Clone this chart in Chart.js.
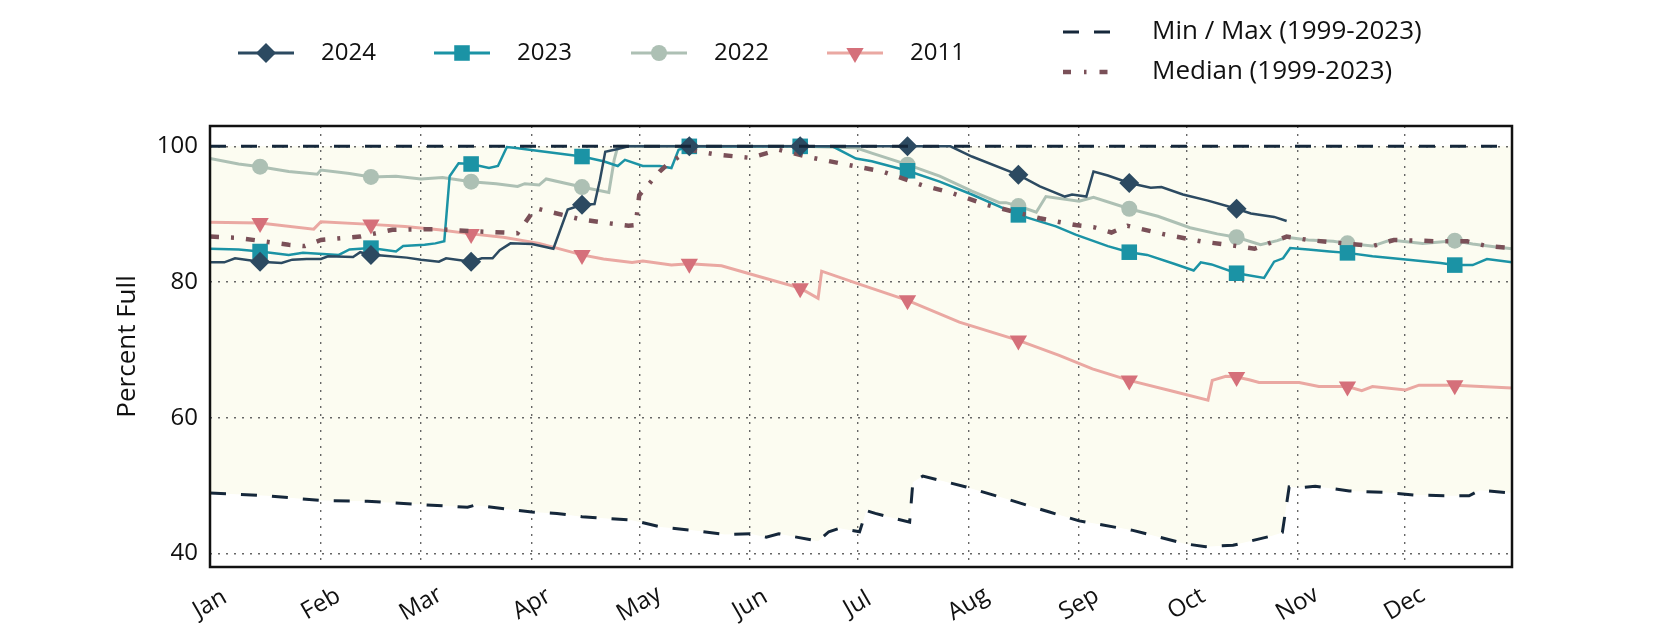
<!DOCTYPE html>
<html>
<head>
<meta charset="utf-8">
<title>Percent Full</title>
<script src="https://cdn.jsdelivr.net/npm/chart.js@4.4.1/dist/chart.umd.min.js"></script>
<style>
  html, body { margin: 0; padding: 0; background: #fff; }
  #wrap { width: 1680px; height: 630px; }
</style>
</head>
<body>
<div id="wrap"><canvas id="chart" width="1680" height="630"></canvas></div>
<script>
// month axis (day of year)
const monthStarts = [0, 31, 59, 90, 120, 151, 181, 212, 243, 273, 304, 334];
const monthLabels = ["Jan", "Feb", "Mar", "Apr", "May", "Jun", "Jul", "Aug", "Sep", "Oct", "Nov", "Dec"];
const yTicks = [40, 60, 80, 100];
const markerDays = [14, 45, 73, 104, 134, 165, 195, 226, 257, 287, 318, 348];

// 2024
const days2024 = [0, 4, 7, 14, 20, 23, 27, 31, 33, 40, 42, 45, 48, 55, 59, 64, 66, 73, 76, 79, 81, 84, 90, 96, 100, 104, 107.5, 109, 110.5, 114, 117, 134, 165, 195, 207, 213, 226, 232, 239, 241, 245, 247, 251, 257, 263, 266, 272, 279, 287, 291, 297.5, 301];
const vals2024 = [82.9, 82.9, 83.5, 83.0, 82.8, 83.3, 83.4, 83.4, 83.8, 83.7, 84.4, 84.0, 83.9, 83.6, 83.3, 83.0, 83.5, 83.0, 83.5, 83.5, 84.7, 85.7, 85.6, 84.9, 90.7, 91.4, 91.5, 95.0, 99.2, 99.6, 100, 100, 100, 100, 100, 98.5, 95.8, 94.1, 92.6, 92.9, 92.6, 96.3, 95.7, 94.6, 93.9, 94.0, 92.9, 92.0, 90.8, 90.1, 89.6, 89.0];

// 2023
const days2023 = [0, 8, 14, 22, 26, 36, 39, 45, 52, 54, 60, 63, 65.5, 67, 69.5, 73, 78, 80.5, 83, 85, 92, 104, 110, 114, 116, 121, 125.7, 129, 131, 134, 165, 174, 180.6, 185, 195, 204, 213, 226, 236.5, 242, 251, 257, 262, 269.5, 275, 277, 280, 287, 294.7, 297.5, 300, 302, 307, 313, 318, 325, 335, 344, 348, 353, 357, 364];
const vals2023 = [84.9, 84.8, 84.5, 84.0, 84.3, 84.0, 84.8, 85.0, 84.5, 85.3, 85.5, 85.7, 86.0, 95.6, 97.5, 97.4, 96.8, 97.1, 99.9, 99.8, 99.3, 98.5, 97.8, 97.1, 98.0, 97.1, 97.1, 96.8, 99.5, 100, 100, 100, 98.2, 97.8, 96.4, 94.8, 92.9, 89.9, 88.2, 87.0, 85.3, 84.4, 84.0, 82.7, 81.7, 82.9, 82.6, 81.3, 80.6, 83.0, 83.5, 85.0, 84.8, 84.5, 84.3, 83.8, 83.3, 82.8, 82.5, 82.5, 83.4, 82.9];

// 2022
const days2022 = [0, 8, 14, 22, 30, 31, 39, 45, 52, 59, 65, 73, 80, 86, 88, 92, 94, 104, 111.5, 113, 114, 134, 165, 180.6, 185, 195, 204, 213, 220.7, 222.5, 226, 231, 233.7, 243, 247, 257, 265, 274, 281.6, 287, 293.7, 298.4, 301, 307, 314, 318, 325, 330, 339, 348, 353, 359, 364];
const vals2022 = [98.2, 97.4, 97.0, 96.3, 95.9, 96.5, 96.0, 95.5, 95.6, 95.2, 95.4, 94.8, 94.5, 94.1, 94.5, 94.3, 95.2, 94.0, 93.2, 98.0, 100, 100, 100, 99.8, 99.0, 97.3, 95.6, 93.4, 91.7, 91.7, 91.2, 90.3, 92.6, 91.9, 92.5, 90.8, 89.7, 88.0, 87.1, 86.6, 85.5, 86.1, 86.6, 86.2, 86.0, 85.7, 85.3, 86.2, 85.7, 86.1, 85.6, 85.2, 84.9];

// 2011
const days2011 = [0, 14, 29, 31, 45, 54.5, 64, 73, 82, 92, 104, 110, 118, 121, 129, 134, 143, 153, 165, 170, 171, 181.5, 195, 209.5, 226, 237.4, 246.7, 257, 270, 279, 280.2, 284, 287, 290.5, 293.3, 304.5, 310, 318, 322, 325, 334.3, 338, 348, 364];
const vals2011 = [88.8, 88.7, 87.8, 88.9, 88.5, 88.2, 87.7, 87.1, 86.6, 85.7, 84.0, 83.4, 82.9, 83.1, 82.5, 82.7, 82.4, 80.9, 79.1, 77.6, 81.6, 79.7, 77.3, 74.1, 71.4, 69.2, 67.2, 65.5, 63.8, 62.6, 65.5, 66.1, 66.0, 65.6, 65.2, 65.2, 64.6, 64.6, 64.0, 64.6, 64.1, 64.8, 64.8, 64.4];

// median (1999-2023)
const daysMedian = [0, 8, 22, 26.5, 31, 42, 51, 64, 73, 86, 91, 95.4, 104, 111, 117, 119, 120, 125.7, 127.6, 134, 141.5, 151, 159, 168.5, 178, 188, 199, 207.6, 217, 232, 242, 247, 252, 256.5, 267, 277, 287, 292, 297.5, 301, 307, 319, 325, 331, 344, 351.5, 357, 364];
const valsMedian = [86.7, 86.5, 85.5, 85.3, 86.2, 86.7, 87.7, 87.8, 87.5, 87.2, 90.9, 90.3, 89.2, 88.7, 88.3, 88.4, 92.8, 96.3, 97.2, 99.5, 98.8, 98.3, 99.5, 98.3, 97.3, 96.3, 94.3, 93.1, 91.4, 89.4, 88.4, 88.1, 87.3, 88.3, 87.0, 86.0, 85.3, 84.9, 86.0, 86.7, 86.2, 85.6, 85.3, 86.2, 86.0, 86.0, 85.3, 85.0];

// min / max (1999-2023)
const daysMin = [0, 16, 31, 44, 59, 72, 74, 90, 97, 104, 107, 118, 126, 135, 144, 151, 155.5, 159, 170, 173, 176, 181.6, 183.5, 186, 195.6, 196.5, 199.3, 211.4, 225.4, 234.7, 243, 258, 272.8, 278.4, 286, 297, 299.8, 301.7, 304.5, 309, 318.5, 328, 337, 346, 352, 355, 364];
const valsMin = [48.9, 48.5, 47.8, 47.7, 47.2, 46.8, 47.1, 46.1, 45.9, 45.4, 45.3, 44.9, 43.9, 43.4, 42.8, 42.9, 42.4, 42.9, 41.8, 43.2, 43.7, 43.2, 46.3, 45.9, 44.6, 50.5, 51.4, 49.8, 47.6, 46.1, 44.8, 43.4, 41.4, 41.0, 41.2, 42.6, 43.1, 49.8, 49.7, 49.9, 49.2, 49.0, 48.6, 48.5, 48.5, 49.3, 48.9];
const daysMax = [0, 364];
const valsMax = [100, 100];

const FONT = "'Open Sans', 'DejaVu Sans', sans-serif";
const navy = "#15273a";
const c2024 = "#2c4a61";
const c2023 = "#1b93a5";
const c2022 = "#adc0b4";
const c2011line = "#eaa8a2";
const c2011mark = "#d5707a";
const cMedian = "#7a5058";

function toPoints(days, vals) {
    return days.map((d, i) => ({ x: d, y: vals[i] }));
}

function markerRadius(r) {
    return function (ctx) {
        return ctx.raw && markerDays.includes(ctx.raw.x) ? r : 0;
    };
}

Chart.defaults.font.family = FONT;
Chart.defaults.color = "#111";

// legend drawn by hand: 4 series in a row, min/max and median stacked on the right
const legendPlugin = {
    id: "customLegend",
    afterDraw(chart) {
        const ctx = chart.ctx;
        const items = [
            { label: "2024", color: c2024, mark: c2024, style: "rectRot", r: 10, rot: 0, cx: 266 },
            { label: "2023", color: c2023, mark: c2023, style: "rect", r: 11, rot: 0, cx: 462 },
            { label: "2022", color: c2022, mark: c2022, style: "circle", r: 8, rot: 0, cx: 659 },
            { label: "2011", color: c2011line, mark: c2011mark, style: "triangle", r: 10, rot: 180, cx: 855 }
        ];
        const y = 53;
        ctx.save();
        items.forEach(it => {
            ctx.strokeStyle = it.color;
            ctx.lineWidth = 3;
            ctx.setLineDash([]);
            ctx.beginPath();
            ctx.moveTo(it.cx - 28, y);
            ctx.lineTo(it.cx + 28, y);
            ctx.stroke();
            ctx.fillStyle = it.mark;
            Chart.helpers.drawPoint(ctx, { pointStyle: it.style, radius: it.r, rotation: it.rot, borderWidth: 0 }, it.cx, y);
            ctx.fillStyle = "#111";
            ctx.font = "24px " + FONT;
            ctx.textAlign = "left";
            ctx.textBaseline = "middle";
            ctx.fillText(it.label, it.cx + 55, y);
        });

        // min / max
        ctx.strokeStyle = navy;
        ctx.lineWidth = 3;
        ctx.setLineDash([16, 15]);
        ctx.beginPath();
        ctx.moveTo(1063, 32);
        ctx.lineTo(1110, 32);
        ctx.stroke();
        // median
        ctx.strokeStyle = cMedian;
        ctx.lineWidth = 4.5;
        ctx.setLineDash([8, 13, 2.5, 13]);
        ctx.beginPath();
        ctx.moveTo(1063, 72);
        ctx.lineTo(1110, 72);
        ctx.stroke();
        ctx.setLineDash([]);
        ctx.fillStyle = "#111";
        ctx.font = "26px " + FONT;
        ctx.fillText("Min / Max (1999-2023)", 1152, 32);
        ctx.fillText("Median (1999-2023)", 1152, 72);
        ctx.restore();
    }
};

// frame around the plot and rotated month labels
const framePlugin = {
    id: "frame",
    afterDraw(chart) {
        const ctx = chart.ctx;
        const a = chart.chartArea;
        const xs = chart.scales.x;
        ctx.save();
        ctx.strokeStyle = "#111";
        ctx.lineWidth = 2.5;
        ctx.setLineDash([]);
        ctx.strokeRect(a.left, a.top, a.right - a.left, a.bottom - a.top);

        ctx.fillStyle = "#111";
        ctx.font = "24px " + FONT;
        ctx.textAlign = "center";
        ctx.textBaseline = "middle";
        monthStarts.forEach((d, i) => {
            ctx.save();
            ctx.translate(xs.getPixelForValue(d), a.bottom + 37);
            ctx.rotate(-Math.PI / 6);
            ctx.fillText(monthLabels[i], 0, 0);
            ctx.restore();
        });
        ctx.restore();
    }
};

const lineBase = {
    tension: 0,
    pointBorderWidth: 0,
    pointHoverRadius: 0
};

const chart = new Chart(document.getElementById("chart").getContext("2d"), {
    type: "line",
    data: {
        datasets: [
            {
                label: "Max (1999-2023)",
                data: toPoints(daysMax, valsMax),
                borderColor: navy,
                borderWidth: 3,
                borderDash: [16, 15],
                pointRadius: 0,
                fill: "+1",
                backgroundColor: "#fcfcf1",
                tension: 0
            },
            {
                label: "Min (1999-2023)",
                data: toPoints(daysMin, valsMin),
                borderColor: navy,
                borderWidth: 3,
                borderDash: [16, 15],
                pointRadius: 0,
                fill: false,
                tension: 0
            },
            Object.assign({}, lineBase, {
                label: "2024",
                data: toPoints(days2024, vals2024),
                borderColor: c2024,
                borderWidth: 2.5,
                pointStyle: "rectRot",
                pointRadius: markerRadius(10),
                pointBackgroundColor: c2024
            }),
            Object.assign({}, lineBase, {
                label: "Median (1999-2023)",
                data: toPoints(daysMedian, valsMedian),
                borderColor: cMedian,
                borderWidth: 4.5,
                borderDash: [9, 12, 3, 12],
                pointRadius: 0
            }),
            Object.assign({}, lineBase, {
                label: "2023",
                data: toPoints(days2023, vals2023),
                borderColor: c2023,
                borderWidth: 2.5,
                pointStyle: "rect",
                pointRadius: markerRadius(11),
                pointBackgroundColor: c2023
            }),
            Object.assign({}, lineBase, {
                label: "2022",
                data: toPoints(days2022, vals2022),
                borderColor: c2022,
                borderWidth: 3,
                pointStyle: "circle",
                pointRadius: markerRadius(8),
                pointBackgroundColor: c2022
            }),
            Object.assign({}, lineBase, {
                label: "2011",
                data: toPoints(days2011, vals2011),
                borderColor: c2011line,
                borderWidth: 3,
                pointStyle: "triangle",
                pointRotation: 180,
                pointRadius: markerRadius(10),
                pointBackgroundColor: c2011mark
            })
        ]
    },
    options: {
        responsive: false,
        animation: false,
        events: [],
        layout: { padding: { top: 126, right: 168, bottom: 0, left: 0 } },
        plugins: {
            legend: { display: false },
            tooltip: { enabled: false },
            filler: { drawTime: "beforeDraw" }
        },
        scales: {
            x: {
                type: "linear",
                min: 0,
                max: 364,
                afterBuildTicks: scale => { scale.ticks = monthStarts.map(v => ({ value: v })); },
                afterFit: scale => { scale.height = 63; },
                ticks: { display: false },
                grid: { color: "#666", lineWidth: 1.4, drawTicks: false },
                border: { display: false, dash: [2, 6] }
            },
            y: {
                min: 38,
                max: 103,
                afterBuildTicks: scale => { scale.ticks = yTicks.map(v => ({ value: v })); },
                afterFit: scale => { scale.width = 210; },
                ticks: { font: { size: 24 }, color: "#111", padding: 12 },
                grid: { color: "#666", lineWidth: 1.4, drawTicks: false },
                border: { display: false, dash: [2, 6] },
                title: {
                    display: true,
                    text: "Percent Full",
                    font: { size: 26 },
                    color: "#111",
                    padding: { top: 112, bottom: 0 }
                }
            }
        }
    },
    plugins: [legendPlugin, framePlugin]
});
</script>
</body>
</html>
